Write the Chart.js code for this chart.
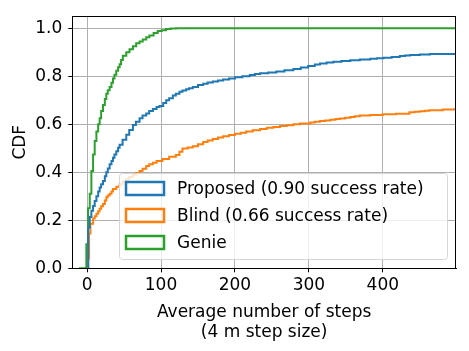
<!DOCTYPE html>
<html>
<head>
<meta charset="utf-8">
<script src="https://cdn.jsdelivr.net/npm/chart.js@4"></script>
<style>
html, body { margin: 0; padding: 0; background: #fff; }
#wrap { width: 469px; height: 351px; }
</style>
</head>
<body>
<div id="wrap"><canvas id="cdfChart" width="469" height="351"></canvas></div>
<script>
// values
const seriesLabels = ['Proposed (0.90 success rate)', 'Blind (0.66 success rate)', 'Genie'];
const seriesColors = ['#1f77b4', '#ff7f0e', '#2ca02c'];

const proposedSteps = [
    0.5, 1.5, 3.6, 5.8, 8.1, 10.3, 12.6, 15, 17, 19,
    21.5, 24, 26, 28, 30.5, 33, 35, 37, 39.5, 42,
    44, 48, 53, 57, 62, 66, 71, 75, 80, 84,
    89, 94, 98, 103, 107, 111, 116, 120, 125, 129,
    134, 138, 143, 150, 157, 163, 170, 177, 184, 192,
    200, 210, 220, 227, 234, 245, 256, 267, 279, 289,
    299, 308, 315, 324, 333, 344, 356, 369, 383, 392,
    401, 412, 423, 430, 437, 450, 464, 499];
const proposedCdf = [
    0, 0.17, 0.214, 0.24, 0.26, 0.28, 0.30, 0.32, 0.337, 0.35,
    0.364, 0.383, 0.40, 0.416, 0.433, 0.447, 0.46, 0.474, 0.488, 0.502,
    0.515, 0.535, 0.556, 0.576, 0.597, 0.61, 0.625, 0.636, 0.645, 0.655,
    0.663, 0.672, 0.676, 0.688, 0.70, 0.708, 0.72, 0.727, 0.735, 0.741,
    0.746, 0.75, 0.755, 0.763, 0.769, 0.774, 0.778, 0.782, 0.786, 0.791,
    0.796, 0.80, 0.805, 0.809, 0.812, 0.816, 0.82, 0.825, 0.83, 0.836,
    0.843, 0.849, 0.853, 0.857, 0.86, 0.863, 0.867, 0.87, 0.873, 0.875,
    0.877, 0.88, 0.884, 0.886, 0.888, 0.89, 0.893, 0.893];

const blindSteps = [
    1, 1.5, 2.7, 4.5, 8.1, 10.3, 12.6, 15, 17, 19,
    21.5, 24, 26, 28, 30.5, 33, 35, 39.5, 44, 48,
    53, 57, 62, 66, 71, 75, 80, 84, 89, 94,
    102, 111, 120, 125, 129, 136, 143, 150, 157, 163,
    170, 177, 184, 192, 200, 208, 215, 224, 234, 243,
    252, 261, 270, 279, 288, 302, 308, 315, 322, 329,
    336, 342, 349, 356, 362, 369, 383, 400, 418, 436,
    443, 450, 457, 463, 481, 497, 499];
const blindCdf = [
    0, 0.04, 0.145, 0.186, 0.207, 0.217, 0.227, 0.238, 0.248, 0.258,
    0.268, 0.282, 0.296, 0.303, 0.31, 0.32, 0.33, 0.34, 0.35, 0.36,
    0.371, 0.38, 0.39, 0.397, 0.405, 0.415, 0.426, 0.433, 0.44, 0.447,
    0.455, 0.465, 0.472, 0.485, 0.499, 0.503, 0.508, 0.517, 0.526, 0.532,
    0.539, 0.545, 0.55, 0.555, 0.56, 0.565, 0.57, 0.575, 0.58, 0.585,
    0.589, 0.593, 0.596, 0.60, 0.603, 0.607, 0.61, 0.614, 0.616, 0.619,
    0.622, 0.624, 0.627, 0.63, 0.633, 0.636, 0.639, 0.642, 0.644, 0.65,
    0.652, 0.654, 0.656, 0.658, 0.661, 0.662, 0.662];

const genieSteps = [
    -11, -1, 1.3, 3.6, 5.8, 8.1, 10.3, 12.6, 15, 17,
    19, 21.5, 24, 26, 28, 30.5, 33, 35, 37, 39.5,
    42, 44, 46, 48.4, 53, 57.4, 62, 66.4, 71, 75.3,
    80, 84.3, 90, 95.5, 101, 106.7, 113, 120, 499];
const genieCdf = [
    0, 0.10, 0.25, 0.31, 0.405, 0.474, 0.53, 0.57, 0.60, 0.625,
    0.655, 0.68, 0.705, 0.727, 0.742, 0.755, 0.773, 0.79, 0.806, 0.823,
    0.837, 0.85, 0.868, 0.885, 0.90, 0.912, 0.925, 0.937, 0.945, 0.953,
    0.962, 0.97, 0.98, 0.988, 0.992, 0.997, 0.999, 1.0, 1.0];

const xTicks = [0, 100, 200, 300, 400];
const yTicks = [0, 0.2, 0.4, 0.6, 0.8, 1.0];

const FONT = 'DejaVu Sans';

function toPoints(xs, ys) {
    return xs.map((x, i) => ({ x: x, y: ys[i] }));
}

const stepsList = [proposedSteps, blindSteps, genieSteps];
const cdfList = [proposedCdf, blindCdf, genieCdf];

const datasets = seriesLabels.map((label, i) => ({
    label: label,
    data: toPoints(stepsList[i], cdfList[i]),
    borderColor: seriesColors[i],
    backgroundColor: seriesColors[i],
    borderWidth: 2,
    pointRadius: 0,
    stepped: 'before',
    fill: false
}));

// box round the axes and the in-plot legend
const framePlugin = {
    id: 'frame',
    afterDatasetsDraw(chart) {
        const ctx = chart.ctx;
        const a = chart.chartArea;
        ctx.save();
        ctx.strokeStyle = '#000';
        ctx.lineWidth = 1;
        ctx.strokeRect(Math.round(a.left) + 0.5, Math.round(a.top) + 0.5,
            Math.round(a.right - a.left) - 1, Math.round(a.bottom - a.top));

        // legend
        const lx = 119, ly = 173, lw = 328, lh = 86;
        ctx.beginPath();
        ctx.roundRect(lx + 0.5, ly + 0.5, lw, lh, 3);
        ctx.fillStyle = 'rgba(255,255,255,0.8)';
        ctx.fill();
        ctx.strokeStyle = '#d6d6d6';
        ctx.stroke();

        ctx.font = '17px "' + FONT + '"';
        ctx.textBaseline = 'middle';
        ctx.textAlign = 'left';
        seriesLabels.forEach((label, i) => {
            const cy = 188.5 + i * 27;
            ctx.strokeStyle = seriesColors[i];
            ctx.lineWidth = 2.5;
            ctx.strokeRect(126, cy - 6.5, 38, 13);
            ctx.fillStyle = '#000';
            ctx.fillText(label, 177, cy + 1);
        });
        ctx.restore();
    }
};

new Chart(document.getElementById('cdfChart'), {
    type: 'line',
    data: { datasets: datasets },
    options: {
        responsive: false,
        animation: false,
        parsing: true,
        layout: { padding: { left: 0, right: 13, top: 13, bottom: 0 } },
        plugins: {
            legend: { display: false },
            tooltip: { enabled: false }
        },
        scales: {
            x: {
                type: 'linear',
                min: -20,
                max: 499,
                afterBuildTicks: s => { s.ticks = xTicks.map(v => ({ value: v })); },
                afterFit: s => { s.height = 82.7; },
                grid: { color: '#b0b0b0', tickColor: '#000', tickLength: 4, lineWidth: 1 },
                border: { color: '#000' },
                ticks: {
                    color: '#000',
                    font: { family: FONT, size: 17 },
                    padding: 3,
                    maxRotation: 0,
                    callback: v => String(v)
                },
                title: {
                    display: true,
                    text: ['Average number of steps', '(4 m step size)'],
                    color: '#000',
                    font: { family: FONT, size: 17, lineHeight: 1.18 },
                    padding: { top: 2, bottom: 8 }
                }
            },
            y: {
                type: 'linear',
                min: 0,
                max: 1.05,
                afterBuildTicks: s => { s.ticks = yTicks.map(v => ({ value: v })); },
                afterFit: s => { s.width = 72.3; },
                grid: { color: '#b0b0b0', tickColor: '#000', tickLength: 4, lineWidth: 1 },
                border: { color: '#000' },
                ticks: {
                    color: '#000',
                    font: { family: FONT, size: 17 },
                    padding: 6,
                    callback: v => v.toFixed(1)
                },
                title: {
                    display: true,
                    text: 'CDF',
                    color: '#000',
                    font: { family: FONT, size: 17 },
                    padding: { top: 10, bottom: 0 }
                }
            }
        }
    },
    plugins: [framePlugin]
});
</script>
</body>
</html>
